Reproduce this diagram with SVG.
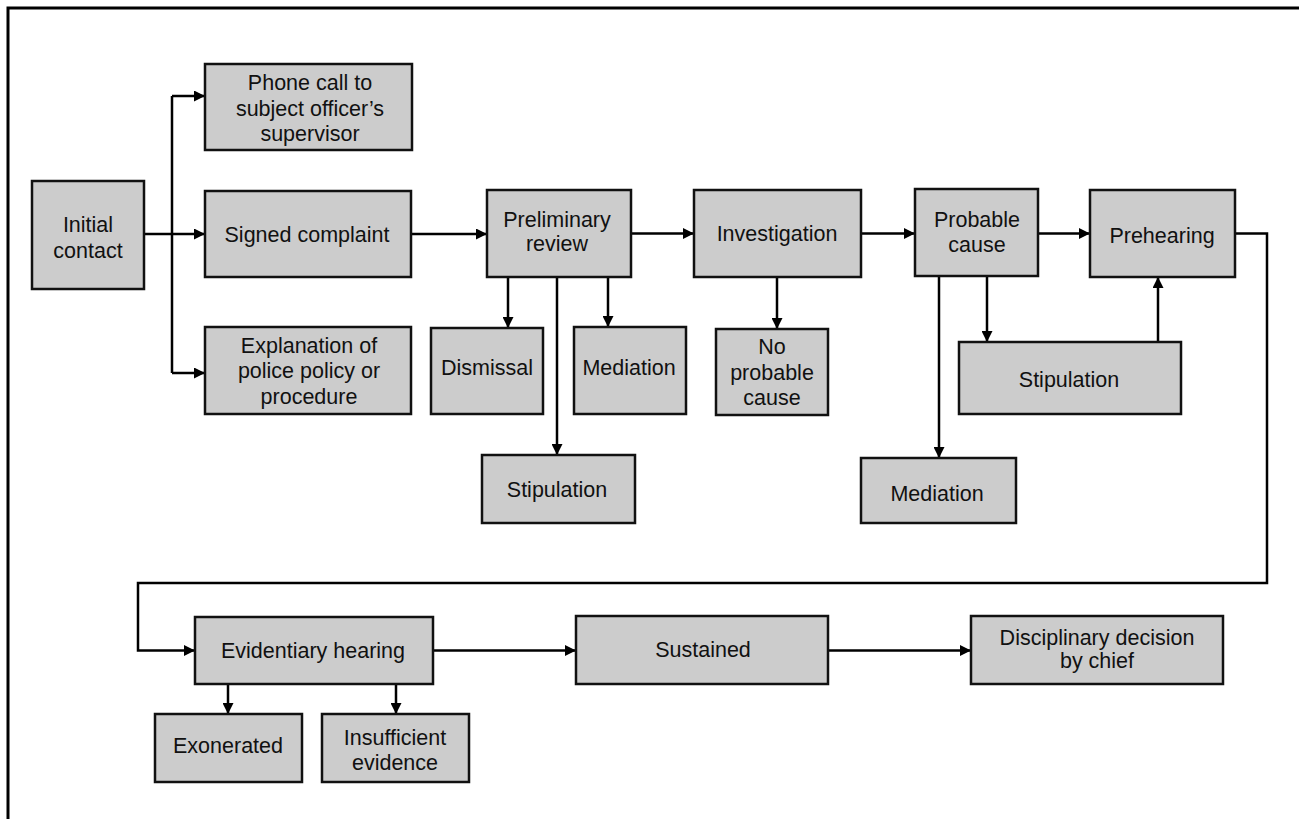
<svg xmlns="http://www.w3.org/2000/svg" width="1299" height="819" viewBox="0 0 1299 819">
  <style>
    .box { fill: #cccccc; stroke: #111111; stroke-width: 2.5; }
    .lbl { font-family: "Liberation Sans", Arial, sans-serif; font-size: 21.5px; fill: #111111; text-anchor: middle; }
    .con { fill: none; stroke: #000000; stroke-width: 2.5; }
    .arr { marker-end: url(#ah); }
  </style>
  <defs>
    <marker id="ah" markerUnits="userSpaceOnUse" markerWidth="11" markerHeight="11" refX="11" refY="5.5" orient="auto">
      <path d="M0,0 L11,5.5 L0,11 z" fill="#000000"/>
    </marker>
  </defs>
  <rect x="0" y="0" width="1299" height="819" fill="#ffffff"/>
  <path d="M8,819 V8 H1299" fill="none" stroke="#000000" stroke-width="3"/>

  <g id="connectors">
    <path class="con" d="M144,234 H172"/>
    <path class="con" d="M172,96 V373"/>
    <path class="con arr" d="M172,96 H205"/>
    <path class="con arr" d="M172,234 H205"/>
    <path class="con arr" d="M172,373 H205"/>
    <path class="con arr" d="M411,234 H487"/>
    <path class="con arr" d="M631,233.5 H694"/>
    <path class="con arr" d="M861,233.5 H915"/>
    <path class="con arr" d="M1038,233.5 H1090"/>
    <path class="con arr" d="M508,277 V328"/>
    <path class="con arr" d="M557,277 V455"/>
    <path class="con arr" d="M608,277 V327"/>
    <path class="con arr" d="M777,277 V329"/>
    <path class="con arr" d="M987,276 V342"/>
    <path class="con arr" d="M939,276 V458"/>
    <path class="con arr" d="M1158,342 V277"/>
    <path class="con arr" d="M1235,233.5 H1267 V583 H138 V650.5 H195"/>
    <path class="con arr" d="M433,650.5 H576"/>
    <path class="con arr" d="M828,650.5 H971"/>
    <path class="con arr" d="M228,684 V714"/>
    <path class="con arr" d="M396,684 V714"/>
  </g>

  <g id="initial-contact">
    <rect class="box" x="32" y="181" width="112" height="108"/>
    <text class="lbl"><tspan x="88" y="232">Initial</tspan><tspan x="88" y="258">contact</tspan></text>
  </g>
  <g id="phone-call">
    <rect class="box" x="205" y="64" width="207" height="86"/>
    <text class="lbl"><tspan x="310" y="90">Phone call to</tspan><tspan x="310" y="115.5">subject officer’s</tspan><tspan x="310" y="141">supervisor</tspan></text>
  </g>
  <g id="signed-complaint">
    <rect class="box" x="205" y="191" width="206" height="86"/>
    <text class="lbl" x="307" y="242">Signed complaint</text>
  </g>
  <g id="explanation">
    <rect class="box" x="205" y="327" width="206" height="87"/>
    <text class="lbl"><tspan x="309" y="352.5">Explanation of</tspan><tspan x="309" y="378">police policy or</tspan><tspan x="309" y="403.5">procedure</tspan></text>
  </g>
  <g id="preliminary-review">
    <rect class="box" x="487" y="190" width="144" height="87"/>
    <text class="lbl"><tspan x="557" y="227">Preliminary</tspan><tspan x="557" y="251">review</tspan></text>
  </g>
  <g id="investigation">
    <rect class="box" x="694" y="190" width="167" height="87"/>
    <text class="lbl" x="777" y="241">Investigation</text>
  </g>
  <g id="dismissal">
    <rect class="box" x="431" y="328" width="112" height="86"/>
    <text class="lbl" x="487" y="375">Dismissal</text>
  </g>
  <g id="mediation-1">
    <rect class="box" x="574" y="327" width="112" height="87"/>
    <text class="lbl" x="629" y="374.5">Mediation</text>
  </g>
  <g id="no-probable-cause">
    <rect class="box" x="716" y="329" width="112" height="86"/>
    <text class="lbl"><tspan x="772" y="354">No</tspan><tspan x="772" y="380">probable</tspan><tspan x="772" y="405">cause</tspan></text>
  </g>
  <g id="stipulation-1">
    <rect class="box" x="482" y="455" width="153" height="68"/>
    <text class="lbl" x="557" y="497">Stipulation</text>
  </g>
  <g id="probable-cause">
    <rect class="box" x="915" y="189" width="123" height="87"/>
    <text class="lbl"><tspan x="977" y="227">Probable</tspan><tspan x="977" y="251.5">cause</tspan></text>
  </g>
  <g id="prehearing">
    <rect class="box" x="1090" y="190" width="145" height="87"/>
    <text class="lbl" x="1162" y="243">Prehearing</text>
  </g>
  <g id="stipulation-2">
    <rect class="box" x="959" y="342" width="222" height="72"/>
    <text class="lbl" x="1069" y="387">Stipulation</text>
  </g>
  <g id="mediation-2">
    <rect class="box" x="861" y="458" width="155" height="65"/>
    <text class="lbl" x="937" y="500.5">Mediation</text>
  </g>
  <g id="evidentiary-hearing">
    <rect class="box" x="195" y="617" width="238" height="67"/>
    <text class="lbl" x="313" y="658">Evidentiary hearing</text>
  </g>
  <g id="exonerated">
    <rect class="box" x="155" y="714" width="147" height="68"/>
    <text class="lbl" x="228" y="753">Exonerated</text>
  </g>
  <g id="insufficient-evidence">
    <rect class="box" x="322" y="714" width="147" height="68"/>
    <text class="lbl"><tspan x="395" y="745">Insufficient</tspan><tspan x="395" y="770">evidence</tspan></text>
  </g>
  <g id="sustained">
    <rect class="box" x="576" y="616" width="252" height="68"/>
    <text class="lbl" x="703" y="657">Sustained</text>
  </g>
  <g id="disciplinary-decision">
    <rect class="box" x="971" y="616" width="252" height="68"/>
    <text class="lbl"><tspan x="1097" y="645">Disciplinary decision</tspan><tspan x="1097" y="668">by chief</tspan></text>
  </g>
</svg>
